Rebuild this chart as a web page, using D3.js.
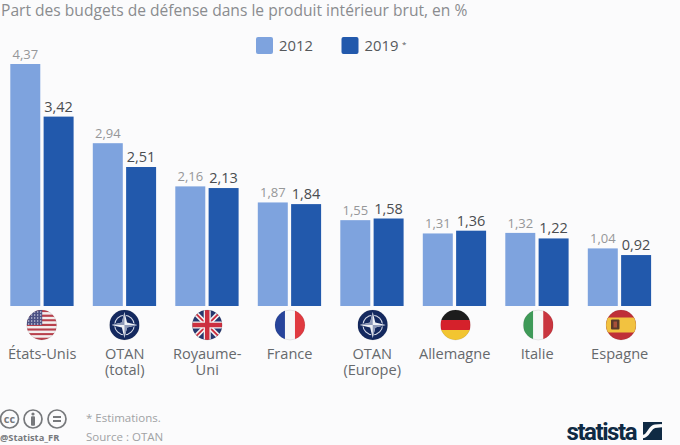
<!DOCTYPE html>
<html>
<head>
<meta charset="utf-8">
<script src="https://d3js.org/d3.v7.min.js"></script>
<style>
  html, body { margin: 0; padding: 0; background: #fbfbfc; }
  svg { display: block; font-family: "Open Sans", sans-serif; }
  .title { font-size: 15.6px; fill: #8a8c8f; }
  .legend { font-size: 14.8px; fill: #55585b; }
  .val2012 { font-size: 13px; fill: #969799; }
  .val2019 { font-size: 14.5px; fill: #4a4d50; }
  .cat { font-size: 14.6px; fill: #66696c; }
  .note { font-size: 11.5px; fill: #a0a2a4; }
</style>
</head>
<body>
<div id="chart"></div>
<script>
var categories = ["États-Unis", "OTAN (total)", "Royaume-Uni", "France", "OTAN (Europe)", "Allemagne", "Italie", "Espagne"];
var labelLines = [["États-Unis"], ["OTAN", "(total)"], ["Royaume-", "Uni"], ["France"], ["OTAN", "(Europe)"], ["Allemagne"], ["Italie"], ["Espagne"]];
var flagKinds = ["us", "nato", "uk", "fr", "nato", "de", "it", "es"];
var values2012 = [4.37, 2.94, 2.16, 1.87, 1.55, 1.31, 1.32, 1.04];
var values2019 = [3.42, 2.51, 2.13, 1.84, 1.58, 1.36, 1.22, 0.92];
var seriesNames = ["2012", "2019"];
var seriesColors = ["#7ea3de", "#2259ac"];

var width = 680, height = 445, baseline = 306;

var svg = d3.select("#chart").append("svg")
    .attr("width", width)
    .attr("height", height);

var x = d3.scaleBand().domain(categories).range([1.25, 661.25]);
var inner = d3.scaleBand().domain(seriesNames).range([9.05, 72.35]).paddingInner(0.1);
var flagX = d3.scalePoint().domain(categories).range([41.7, 621]);
var y = d3.scaleLinear().domain([0, 4.37]).range([baseline, 64]);
var comma = function(v) { return d3.format(".2f")(v).replace(".", ","); };

svg.append("text").attr("class", "title").attr("x", 1).attr("y", 16)
    .text("Part des budgets de défense dans le produit intérieur brut, en %");

// legend
var legend = svg.selectAll(".lg").data(seriesNames).enter().append("g")
    .attr("transform", function(d, i) { return "translate(" + (256 + i * 85.5) + ",37)"; });
legend.append("rect").attr("width", 17).attr("height", 17).attr("rx", 2)
    .attr("fill", function(d, i) { return seriesColors[i]; });
legend.append("text").attr("class", "legend").attr("x", 23).attr("y", 14)
    .text(function(d) { return d; });
svg.append("text").attr("x", 402).attr("y", 47).attr("font-size", 8).attr("fill", "#55585b").text("*");

// bars
var groups = svg.selectAll(".grp").data(categories).enter().append("g")
    .attr("transform", function(d) { return "translate(" + x(d) + ",0)"; });

[values2012, values2019].forEach(function(vals, s) {
  var name = seriesNames[s];
  groups.append("rect")
      .attr("x", inner(name))
      .attr("y", function(d, i) { return y(vals[i]); })
      .attr("width", inner.bandwidth())
      .attr("height", function(d, i) { return baseline - y(vals[i]); })
      .attr("fill", seriesColors[s]);
  groups.append("text")
      .attr("class", "val" + name)
      .attr("text-anchor", "middle")
      .attr("x", inner(name) + inner.bandwidth() / 2)
      .attr("y", function(d, i) { return y(vals[i]) - 5; })
      .text(function(d, i) { return comma(vals[i]); });
});

// category labels
groups.each(function(d, i) {
  var g = d3.select(this);
  labelLines[i].forEach(function(line, j) {
    g.append("text").attr("class", "cat").attr("text-anchor", "middle")
        .attr("x", x.bandwidth() / 2 - 0.3).attr("y", 359 + j * 16).text(line);
  });
});

// flags
var defs = svg.append("defs");
defs.append("clipPath").attr("id", "disc").append("circle").attr("r", 15);

function stripes(f, colors, vertical) {
  var n = colors.length;
  colors.forEach(function(c, i) {
    f.append("rect")
        .attr("x", vertical ? -15 + i * 30 / n : -15)
        .attr("y", vertical ? -15 : -15 + i * 30 / n)
        .attr("width", vertical ? 30 / n : 30)
        .attr("height", vertical ? 30 : 30 / n)
        .attr("fill", c);
  });
}

var drawFlag = {
  us: function(f) {
    var c = [];
    for (var i = 0; i < 13; i++) c.push(i % 2 ? "#f3eeee" : "#b8404c");
    stripes(f, c, false);
    f.append("rect").attr("x", -15).attr("y", -15).attr("width", 15.5).attr("height", 15).attr("fill", "#4d5285");
    for (var r = 0; r < 5; r++) for (var k = 0; k < 5; k++) {
      f.append("circle").attr("cx", -13 + k * 3).attr("cy", -13 + r * 3).attr("r", 0.7).attr("fill", "#dfe0ec");
    }
  },
  nato: function(f) {
    f.append("rect").attr("x", -15).attr("y", -15).attr("width", 30).attr("height", 30).attr("fill", "#14295f");
    f.append("circle").attr("r", 9.8).attr("fill", "none").attr("stroke", "#d5d9e6").attr("stroke-width", 1.1);
    f.append("path").attr("fill", "#14295f")
        .attr("d", "M0,-14L3.4,-3.4L14,0L3.4,3.4L0,14L-3.4,3.4L-14,0L-3.4,-3.4Z");
    f.append("path").attr("fill", "#eef0f5")
        .attr("d", "M0,-13L2.6,-2.6L13,0L2.6,2.6L0,13L-2.6,2.6L-13,0L-2.6,-2.6Z");
    f.append("path").attr("fill", "#8f9ab8")
        .attr("d", "M0,-13L0,0L13,0L2.6,2.6L0,13L0,0L-13,0L-2.6,-2.6Z");
  },
  uk: function(f) {
    f.append("rect").attr("x", -15).attr("y", -15).attr("width", 30).attr("height", 30).attr("fill", "#27386f");
    f.append("path").attr("d", "M-15,-15L15,15M15,-15L-15,15").attr("stroke", "#f3f3f3").attr("stroke-width", 5);
    f.append("path").attr("d", "M-15,-15L15,15M15,-15L-15,15").attr("stroke", "#cc2f3f").attr("stroke-width", 1.8);
    f.append("path").attr("d", "M0,-15V15M-15,0H15").attr("stroke", "#f3f3f3").attr("stroke-width", 7);
    f.append("path").attr("d", "M0,-15V15M-15,0H15").attr("stroke", "#cc2f3f").attr("stroke-width", 4.5);
  },
  fr: function(f) { stripes(f, ["#27449b", "#f7f7f7", "#e03a40"], true); },
  de: function(f) { stripes(f, ["#1c1c1c", "#d5212b", "#f2c531"], false); },
  it: function(f) { stripes(f, ["#3f9a58", "#f7f7f7", "#c9363f"], true); },
  es: function(f) {
    f.append("rect").attr("x", -15).attr("y", -15).attr("width", 30).attr("height", 30).attr("fill", "#bf2f38");
    f.append("rect").attr("x", -15).attr("y", -7.5).attr("width", 30).attr("height", 15).attr("fill", "#f2c240");
    f.append("rect").attr("x", -10).attr("y", -5.5).attr("width", 8.5).attr("height", 10).attr("rx", 1).attr("fill", "#5a3a2a");
    f.append("rect").attr("x", -7.5).attr("y", -3.5).attr("width", 3.5).attr("height", 6).attr("fill", "#a8503a");
  }
};

svg.selectAll(".flag").data(categories).enter().append("g")
    .attr("transform", function(d) { return "translate(" + flagX(d) + ",325)"; })
    .each(function(d, i) {
      var g = d3.select(this);
      drawFlag[flagKinds[i]](g.append("g").attr("clip-path", "url(#disc)"));
      g.append("circle").attr("r", 15).attr("fill", "none").attr("stroke", "#000").attr("stroke-opacity", 0.12).attr("stroke-width", 0.7);
    });

// cc icons
[9.5, 33, 57].forEach(function(cx, i) {
  var g = svg.append("g").attr("transform", "translate(" + cx + ",419)").attr("fill", "none").attr("stroke", "#77797c");
  g.append("circle").attr("r", 9).attr("stroke-width", 1.7);
  if (i === 0) {
    g.append("text").attr("text-anchor", "middle").attr("y", 3.5).attr("font-size", 11).attr("font-weight", 700)
        .attr("stroke", "none").attr("fill", "#77797c").text("cc");
  } else if (i === 1) {
    g.append("circle").attr("cy", -5).attr("r", 1.6).attr("fill", "#77797c").attr("stroke", "none");
    g.append("rect").attr("x", -2).attr("y", -2.8).attr("width", 4).attr("height", 9.5).attr("rx", 1).attr("fill", "#77797c").attr("stroke", "none");
  } else {
    g.append("path").attr("d", "M-4,-2H4M-4,2H4").attr("stroke-width", 1.8);
  }
});
svg.append("text").attr("x", 0).attr("y", 441).attr("font-size", 9.3).attr("font-weight", 700).attr("fill", "#77797c").text("@Statista_FR");

svg.append("text").attr("class", "note").attr("x", 86).attr("y", 422).text("* Estimations.");
svg.append("text").attr("class", "note").attr("x", 86).attr("y", 441).text("Source : OTAN");

// statista logo
svg.append("text").attr("x", 566.5).attr("y", 440).attr("font-size", 24).attr("font-weight", 700)
    .attr("font-family", "Roboto, sans-serif").attr("fill", "#0f2a44").attr("textLength", 71).text("statista");
var logo = svg.append("g").attr("transform", "translate(643,422)");
logo.append("rect").attr("width", 19).attr("height", 18).attr("fill", "#0f2a44");
logo.append("path").attr("d", "M0,14.5C6,14.5 6,5 12,4.2L19,3.6").attr("fill", "none").attr("stroke", "#fbfbfc").attr("stroke-width", 3.4);
</script>
</body>
</html>
